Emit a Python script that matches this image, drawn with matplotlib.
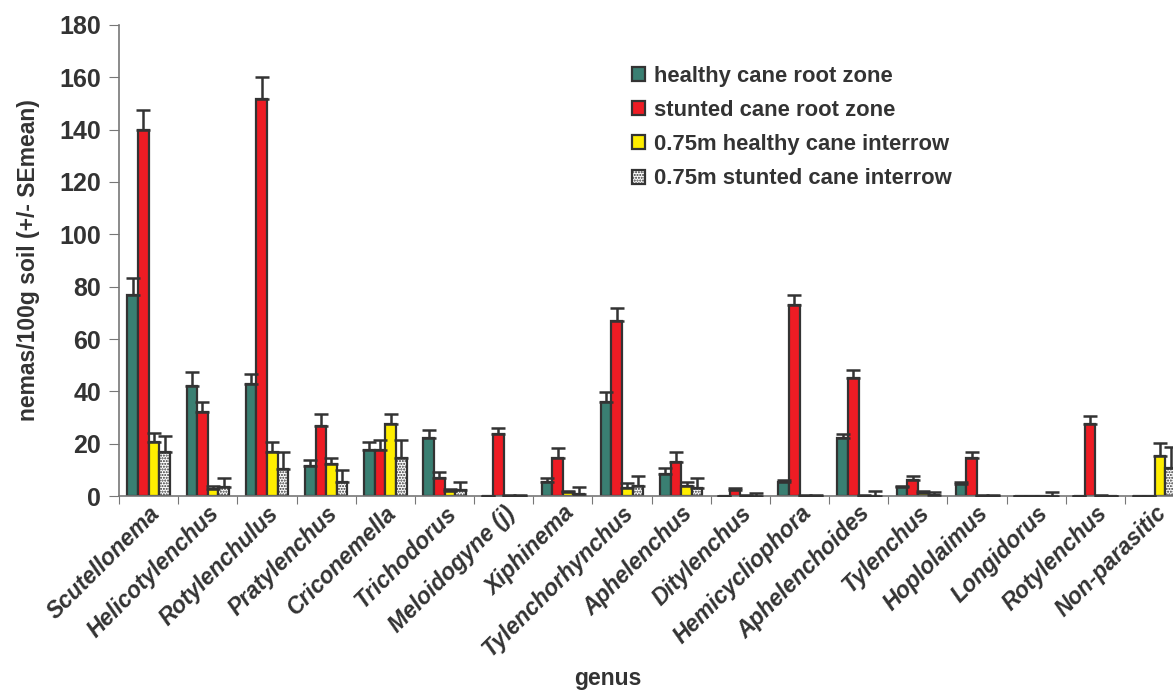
import matplotlib
matplotlib.use("Agg")
import matplotlib.pyplot as plt
import numpy as np

plt.rcParams['font.family'] = ['Liberation Sans', 'DejaVu Sans']
plt.rcParams['hatch.linewidth'] = 1.0

genera = ["Scutellonema", "Helicotylenchus", "Rotylenchulus", "Pratylenchus",
          "Criconemella", "Trichodorus", "Meloidogyne (j)", "Xiphinema",
          "Tylenchorhynchus", "Aphelenchus", "Ditylenchus", "Hemicycliophora",
          "Aphelenchoides", "Tylenchus", "Hoplolaimus", "Longidorus",
          "Rotylenchus", "Non-parasitic"]

healthy_root = [77, 42, 43, 11.5, 17.6, 22.2, 0, 5.3, 35.9, 8.4, 0, 5.3, 22.2, 3.6, 4.8, 0, 0, 0]
healthy_root_se = [6.3, 5.3, 3.6, 2.4, 3.2, 3.0, 0, 1.7, 4.0, 2.4, 0, 0.9, 1.6, 0.3, 0.5, 0, 0, 0]

stunted_root = [140, 32.2, 151.5, 26.7, 17.6, 6.9, 23.7, 14.5, 66.9, 13.1, 2.3, 73, 45.1, 6.1, 14.5, 0, 27.5, 0]
stunted_root_se = [7.5, 3.7, 8.5, 4.8, 3.8, 2.3, 2.4, 4.0, 4.9, 3.8, 0.9, 3.8, 3.0, 1.7, 2.4, 0, 3.1, 0]

healthy_inter = [20.8, 2.9, 16.9, 12.2, 27.5, 2.0, 0, 1.4, 3.2, 3.8, 0, 0, 0, 1.0, 0, 0, 0, 15.2]
healthy_inter_se = [3.2, 1.0, 3.9, 2.5, 4.0, 0.9, 0.3, 0.5, 1.8, 1.7, 0.3, 0.3, 0.5, 0.8, 0.3, 0, 0.3, 4.9]

stunted_inter = [16.9, 3.3, 10.2, 5.5, 14.7, 2.3, 0, 0.8, 3.8, 3.2, 0, 0, 0, 0.5, 0, 0, 0, 10.8]
stunted_inter_se = [6.0, 3.7, 6.7, 4.6, 6.8, 3.2, 0.5, 2.6, 4.0, 3.8, 1.0, 0.5, 1.9, 1.0, 0.5, 1.6, 0, 7.8]

labels = ["healthy cane root zone", "stunted cane root zone",
          "0.75m healthy cane interrow", "0.75m stunted cane interrow"]

dark = '#333333'
fig = plt.figure(figsize=(11.73, 6.9), dpi=100)
ax = fig.add_axes([0.1015, 0.281, 0.908, 0.683])

x = np.arange(len(genera))
w = 0.18
series = [(healthy_root, healthy_root_se, '#3a7f72', None),
          (stunted_root, stunted_root_se, '#ee1c24', None),
          (healthy_inter, healthy_inter_se, '#ffee00', None),
          (stunted_inter, stunted_inter_se, 'white', '......')]

for i, (vals, se, col, hatch) in enumerate(series):
    pos = x + (i - 1.5) * w
    ax.bar(pos, vals, w, color=col, edgecolor=dark, linewidth=1.6,
           hatch=hatch, label=labels[i], zorder=2)
    ax.errorbar(pos, vals, yerr=[np.zeros(len(vals)), se], fmt='none',
                ecolor=dark, elinewidth=1.8, capsize=5, capthick=1.8, zorder=3)

ax.set_xlim(-0.5, len(genera) - 0.5)
ax.set_ylim(0, 180)
ax.set_yticks(np.arange(0, 181, 20))
ax.set_xticks(np.arange(-0.5, len(genera), 1))
ax.set_xticklabels([])
ax.set_xticks(x, minor=True)
ax.set_xticklabels(genera, minor=True, rotation=45, ha='right',
                   rotation_mode='anchor', fontsize=16.5, fontweight='bold',
                   fontstyle='italic', color=dark)
ax.tick_params(axis='x', which='minor', length=0, pad=4)
ax.tick_params(axis='x', which='major', length=6, color='#777777', direction='out')
ax.tick_params(axis='y', length=7, color='#777777', labelsize=18, labelcolor=dark, pad=6)
for lab in ax.get_yticklabels():
    lab.set_fontweight('bold')

for s in ['top', 'right']:
    ax.spines[s].set_visible(False)
for s in ['left', 'bottom']:
    ax.spines[s].set_color('#777777')
    ax.spines[s].set_linewidth(1.2)

ax.set_ylabel("nemas/100g soil (+/- SEmean)", fontsize=16.5, fontweight='bold',
              color=dark, labelpad=14)
fig.text(0.518, 0.017, "genus", ha='center', va='center', fontsize=16.5,
         fontweight='bold', color=dark)

leg = ax.legend(loc='upper left', bbox_to_anchor=(0.463, 0.955), frameon=False,
                handlelength=0.6, handleheight=0.6,
                handletextpad=0.4, labelspacing=0.6,
                prop={'weight': 'bold', 'size': 15.8})
for t in leg.get_texts():
    t.set_color(dark)

fig.savefig("out.png", dpi=100)
